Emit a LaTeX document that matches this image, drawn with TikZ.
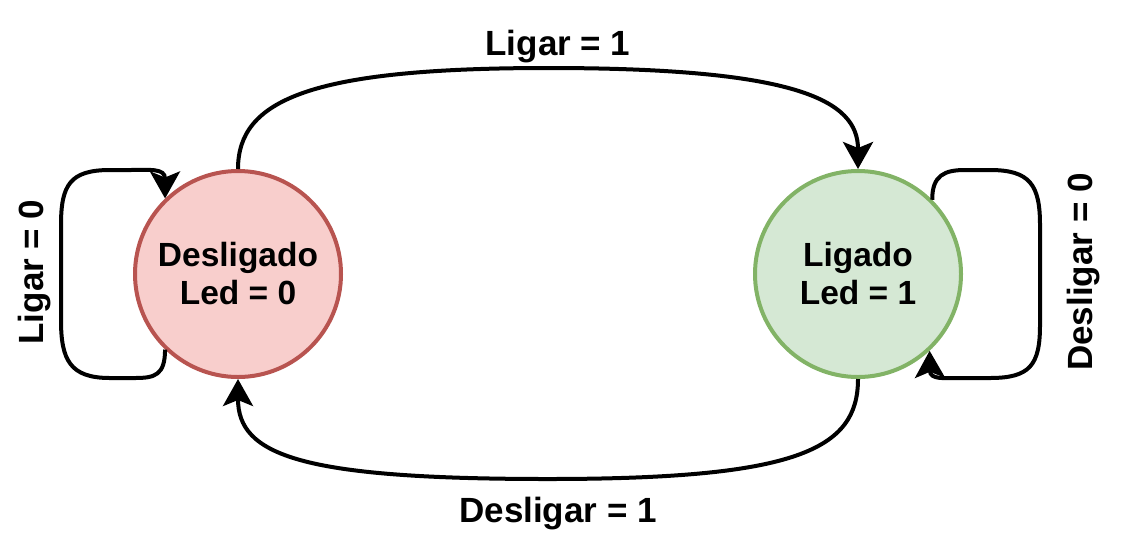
\documentclass[tikz,border=0pt]{standalone}
\usepackage{fontspec}
\setmainfont{Liberation Sans}
\usetikzlibrary{arrows.meta}
\definecolor{redfill}{HTML}{F8CECC}
\definecolor{redline}{HTML}{B85450}
\definecolor{greenfill}{HTML}{D5E8D4}
\definecolor{greenline}{HTML}{82B366}
\begin{document}
\begin{tikzpicture}[x=1pt,y=-1pt,
  state/.style={circle, minimum size=206pt, inner sep=0pt, line width=4pt, align=center,
    font=\fontsize{33.5}{38}\selectfont\bfseries},
  arr/.style={line width=4pt, -{Stealth[length=27pt, width=30pt, inset=6pt]}},
  lbl/.style={inner sep=0pt, font=\fontsize{35}{40}\selectfont\bfseries}]
\useasboundingbox (0,0) rectangle (1139,558);
\node[state, fill=redfill, draw=redline] (off) at (238,274) {Desligado\\Led = 0};
\node[state, fill=greenfill, draw=greenline] (on) at (858,274) {Ligado\\Led = 1};
% top transition
\draw[arr] (off.north) .. controls (238,100) and (310,68) .. (548,68)
  .. controls (796,68) and (858,100) .. (on.north);
% bottom transition
\draw[arr] (on.south) .. controls (858,450) and (796,479) .. (548,479)
  .. controls (300,479) and (238,455) .. (off.south);
% left self loop
\draw[arr] (off.226) .. controls (165,375) and (155,378) .. (135,378) -- (110,378)
  .. controls (70,378) and (61,360) .. (61,320) -- (61,225)
  .. controls (61,185) and (70,170) .. (110,170) -- (130,170)
  .. controls (150,170) and (165,168) .. (off.134);
% right self loop
\draw[arr] (on.45) .. controls (932,175) and (945,170) .. (965,170) -- (990,170)
  .. controls (1030,170) and (1040,185) .. (1040,225) -- (1040,325)
  .. controls (1040,365) and (1030,378) .. (990,378) -- (960,378)
  .. controls (945,378) and (930,380) .. (on.-47);
% labels
\node[lbl, anchor=base] (l1) at (558,55) {Ligar = 1};
\node[lbl, anchor=base] (l2) at (558,522) {Desligar = 1};
\node[lbl, anchor=base, rotate=90] (l3) at (43,272) {Ligar = 0};
\node[lbl, anchor=base, rotate=90] (l4) at (1092,272) {Desligar = 0};
\end{tikzpicture}
\end{document}
